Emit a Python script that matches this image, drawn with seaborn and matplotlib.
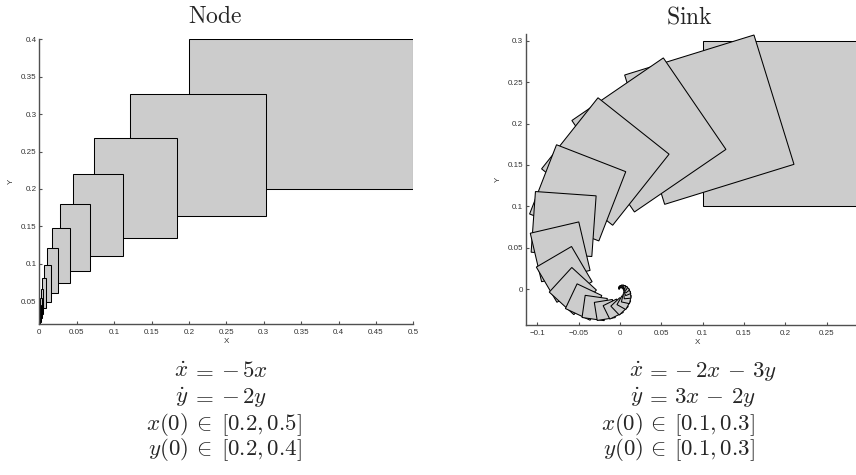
import numpy as np
import matplotlib
matplotlib.use("Agg")
import matplotlib.pyplot as plt
from matplotlib.ticker import FuncFormatter, FixedLocator
import seaborn as sns

# ---- Node: x' = -5x, y' = -2y, started from the box [0.2,0.5] x [0.2,0.4]
node_matrix = [[-5.0, 0.0], [0.0, -2.0]]
node_x0 = [0.2, 0.5]
node_y0 = [0.2, 0.4]
node_times = [0.0, 0.1, 0.2, 0.3, 0.4, 0.5, 0.6, 0.7, 0.8, 0.9, 1.0, 1.1, 1.2]
node_xlim = [0.0, 0.5]
node_ylim = [0.0192, 0.4]
node_xticks = [0, 0.05, 0.1, 0.15, 0.2, 0.25, 0.3, 0.35, 0.4, 0.45, 0.5]
node_yticks = [0.05, 0.1, 0.15, 0.2, 0.25, 0.3, 0.35, 0.4]

# ---- Sink: x' = -2x - 3y, y' = 3x - 2y, started from the box [0.1,0.3] x [0.1,0.3]
sink_matrix = [[-2.0, -3.0], [3.0, -2.0]]
sink_x0 = [0.1, 0.3]
sink_y0 = [0.1, 0.3]
sink_times = [0.0, 0.1, 0.2, 0.3, 0.4, 0.5, 0.6, 0.7, 0.8, 0.9, 1.0,
              1.1, 1.2, 1.3, 1.4, 1.5, 1.6, 1.7, 1.8, 1.9, 2.0,
              2.1, 2.2, 2.3, 2.4, 2.5, 2.6, 2.7, 2.8]
sink_xlim = [-0.1137, 0.3]
sink_ylim = [-0.0436, 0.3083]
sink_xticks = [-0.1, -0.05, 0, 0.05, 0.1, 0.15, 0.2, 0.25]
sink_yticks = [0, 0.05, 0.1, 0.15, 0.2, 0.25, 0.3]

# equation arrays: left side, relation, right side
node_lhs = [r"$\dot{x}$", r"$\dot{y}$", r"$x(0)$", r"$y(0)$"]
node_rel = [r"$=$", r"$=$", r"$\in$", r"$\in$"]
node_rhs = [r"$-\,5x$", r"$-\,2y$", r"$[0.2,0.5]$", r"$[0.2,0.4]$"]
sink_lhs = [r"$\dot{x}$", r"$\dot{y}$", r"$x(0)$", r"$y(0)$"]
sink_rel = [r"$=$", r"$=$", r"$\in$", r"$\in$"]
sink_rhs = [r"$-\,2x\,-\,3y$", r"$3x\,-\,2y$", r"$[0.1,0.3]$",
            r"$[0.1,0.3]$"]


def expm(a, t):
    """exp(A t) for a diagonalisable 2x2 matrix."""
    w, v = np.linalg.eig(np.asarray(a, dtype=float))
    return np.real(v @ np.diag(np.exp(w * t)) @ np.linalg.inv(v))


def flow_boxes(a, xr, yr, times):
    corners = np.array([[xr[0], yr[0]], [xr[1], yr[0]],
                        [xr[1], yr[1]], [xr[0], yr[1]]])
    return [corners @ expm(a, t).T for t in times]


sns.set_theme(style="ticks")
plt.rcParams["font.family"] = ["Liberation Sans", "DejaVu Sans"]
plt.rcParams["mathtext.fontset"] = "cm"

W, H = 856, 475
fig = plt.figure(figsize=(W / 100, H / 100), dpi=100)


def fmt(v, pos):
    s = f"{v:g}"
    if s == "-0":
        s = "0"
    return s.replace("-", "\u2212")


def panel(boxes, scale, origin, xlim, ylim, xticks, yticks):
    ox, oy = origin
    left = ox + xlim[0] * scale
    right = ox + xlim[1] * scale
    top = oy - ylim[1] * scale
    bottom = oy - ylim[0] * scale
    ax = fig.add_axes([left / W, 1 - bottom / H, (right - left) / W,
                       (bottom - top) / H])
    for b in boxes:
        ax.fill(b[:, 0], b[:, 1], facecolor="#cccccc", edgecolor="black",
                linewidth=0.75, joinstyle="miter")
    ax.set_xlim(*xlim)
    ax.set_ylim(*ylim)
    sns.despine(ax=ax)
    for sp in ("left", "bottom"):
        ax.spines[sp].set_color("#505050")
        ax.spines[sp].set_linewidth(1.0)
    ax.xaxis.set_major_locator(FixedLocator(xticks))
    ax.yaxis.set_major_locator(FixedLocator(yticks))
    ax.xaxis.set_major_formatter(FuncFormatter(fmt))
    ax.yaxis.set_major_formatter(FuncFormatter(fmt))
    ax.tick_params(direction="in", length=2.5, width=0.8, color="#505050",
                   labelsize=5.8, labelcolor="#333333")
    ax.tick_params(axis="x", pad=3.5)
    ax.tick_params(axis="y", pad=2)
    ax.set_xlabel("X", fontsize=5.8, color="#333333", labelpad=1.5)
    ax.set_ylabel("Y", fontsize=5.8, color="#333333", labelpad=4)
    ax.set_facecolor("white")
    return ax


node_boxes = flow_boxes(node_matrix, node_x0, node_y0, node_times)
sink_boxes = flow_boxes(sink_matrix, sink_x0, sink_y0, sink_times)

panel(node_boxes, 748.0, (39.3, 338.5), node_xlim, node_ylim,
      node_xticks, node_yticks)
panel(sink_boxes, 826.7, (620.0, 289.0), sink_xlim, sink_ylim,
      sink_xticks, sink_yticks)

# titles
fig.text(215.5 / W, 1 - 23 / H, r"$\mathrm{Node}$", fontsize=17,
         ha="center", va="baseline")
fig.text(689 / W, 1 - 23 / H, r"$\mathrm{Sink}$", fontsize=17,
         ha="center", va="baseline")

# equation blocks, aligned on the relation sign
baselines = [377, 403, 430, 455]


def equations(lhs, rel, rhs, lhs_end, rel_x, rhs_start):
    for a, r, b, yb in zip(lhs, rel, rhs, baselines):
        y = 1 - yb / H
        fig.text(lhs_end / W, y, a, fontsize=16.5, ha="right", va="baseline")
        fig.text(rel_x / W, y, r, fontsize=16.5, ha="center", va="baseline")
        fig.text(rhs_start / W, y, b, fontsize=16.5, ha="left", va="baseline")


equations(node_lhs, node_rel, node_rhs, 188, 202, 221)
equations(sink_lhs, sink_rel, sink_rhs, 643, 656, 674)

fig.savefig("out.png", dpi=100, facecolor="white")
